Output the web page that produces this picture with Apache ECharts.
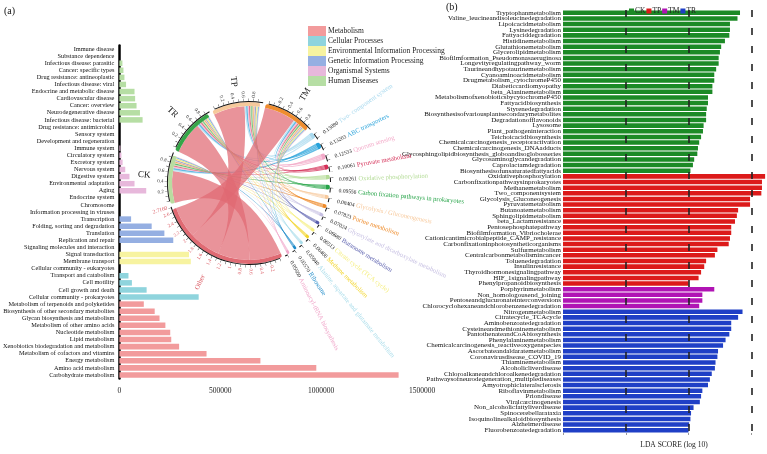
<!DOCTYPE html>
<html>
<head>
<meta charset="utf-8">
<script src="https://cdn.jsdelivr.net/npm/echarts@6/dist/echarts.min.js"></script>
<style>
  html, body { margin: 0; padding: 0; background: #fff; }
  #main { width: 767px; height: 454px; }
</style>
</head>
<body>
<div id="main"></div>
<script>
var FONT = '"Liberation Serif", "DejaVu Serif", serif';

// ---- (a) KEGG level 2 abundance, grouped by level 1 ----
var humanCats = ['Immune disease', 'Substance dependence', 'Infectious disease: parasitic', 'Cancer: specific types',
  'Drug resistance: antineoplastic', 'Infectious disease: viral', 'Endocrine and metabolic disease', 'Cardiovascular disease',
  'Cancer: overview', 'Neurodegenerative disease', 'Infectious disease: bacterial', 'Drug resistance: antimicrobial'];
var humanVals = [0, 0, 15000, 20000, 25000, 33000, 75000, 78000, 85000, 102000, 115000, 0];

var organCats = ['Sensory system', 'Development and regeneration', 'Immune system', 'Circulatory system', 'Excretory system',
  'Nervous system', 'Digestive system', 'Environmental adaptation', 'Aging', 'Endocrine system'];
var organVals = [0, 0, 5000, 10000, 16000, 29000, 50000, 75000, 133000, 0];

var geneCats = ['Chromosome', 'Information processing in viruses', 'Transcription', 'Folding, sorting and degradation',
  'Translation', 'Replication and repair'];
var geneVals = [0, 0, 58000, 160000, 223000, 267000];

var envCats = ['Signaling molecules and interaction', 'Signal transduction', 'Membrane transport'];
var envVals = [0, 345000, 354000];

var cellCats = ['Cellular community - eukaryotes', 'Transport and catabolism', 'Cell motility', 'Cell growth and death',
  'Cellular community - prokaryotes'];
var cellVals = [0, 45000, 62000, 135000, 393000];

var metaCats = ['Metabolism of terpenoids and polyketides', 'Biosynthesis of other secondary metabolites',
  'Glycan biosynthesis and metabolism', 'Metabolism of other amino acids', 'Nucleotide metabolism', 'Lipid metabolism',
  'Xenobiotics biodegradation and metabolism', 'Metabolism of cofactors and vitamins', 'Energy metabolism',
  'Amino acid metabolism', 'Carbohydrate metabolism'];
var metaVals = [121000, 175000, 199000, 228000, 252000, 257000, 296000, 432000, 699000, 976000, 1384000];

var leftTicks = [0, 500000, 1000000, 1500000];

var leftGroups = [
  { name: 'Human Diseases', cats: humanCats, vals: humanVals, color: '#b6dea4' },
  { name: 'Organismal Systems', cats: organCats, vals: organVals, color: '#e7b8db' },
  { name: 'Genetic Information Processing', cats: geneCats, vals: geneVals, color: '#95afe2' },
  { name: 'Environmental Information Processing', cats: envCats, vals: envVals, color: '#f7f3a0' },
  { name: 'Cellular Processes', cats: cellCats, vals: cellVals, color: '#8fd4dd' },
  { name: 'Metabolism', cats: metaCats, vals: metaVals, color: '#f29b9c' }
];

// ---- (b) LDA scores ----
var ckPaths = ['Tryptophanmetabolism', 'Valine_leucineandisoleucinedegradation', 'Lipoicacidmetabolism', 'Lysinedegradation',
  'Fattyaciddegradation', 'Histidinemetabolism', 'Glutathionemetabolism', 'Glycerolipidmetabolism',
  'Biofilmformation_Pseudomonasaeruginosa', 'Longevityregulatingpathway_worm', 'Taurineandhypotaurinemetabolism',
  'Cyanoaminoacidmetabolism', 'Drugmetabolism_cytochromeP450', 'Diabeticcardiomyopathy', 'beta_Alaninemetabolism',
  'MetabolismofxenobioticsbycytochromeP450', 'Fattyacidbiosynthesis', 'Styrenedegradation',
  'Biosynthesisofvariousplantsecondarymetabolites', 'Degradationofflavonoids', 'Lysosome', 'Plant_pathogeninteraction',
  'Teichoicacidbiosynthesis', 'Chemicalcarcinogenesis_receptoractivation', 'Chemicalcarcinogenesis_DNAadducts',
  'Glycosphingolipidbiosynthesis_globoandisoglobosseries', 'Glycosaminoglycandegradation', 'Caprolactamdegradation',
  'Biosynthesisofunsaturatedfattyacids'];
var ckScores = [2.82, 2.78, 2.66, 2.66, 2.65, 2.58, 2.52, 2.50, 2.48, 2.48, 2.44, 2.41, 2.41, 2.38, 2.38,
  2.31, 2.31, 2.29, 2.28, 2.28, 2.24, 2.23, 2.20, 2.17, 2.15, 2.14, 2.09, 2.07, 2.03];

var tpPaths = ['Oxidativephosphorylation', 'Carbonfixationpathwaysinprokaryotes', 'Methanemetabolism', 'Two_componentsystem',
  'Glycolysis_Gluconeogenesis', 'Pyruvatemetabolism', 'Butanoatemetabolism', 'Sphingolipidmetabolism',
  'beta_Lactamresistance', 'Pentosephosphatepathway', 'Biofilmformation_Vibriocholerae',
  'Cationicantimicrobialpeptide_CAMP_resistance', 'Carbonfixationinphotosyntheticorganisms', 'Sulfurmetabolism',
  'Centralcarbonmetabolismincancer', 'Toluenedegradation', 'Insulinresistance', 'Thyroidhormonesignalingpathway',
  'HIF_1signalingpathway', 'Phenylpropanoidbiosynthesis'];
var tpScores = [3.22, 3.17, 3.17, 3.16, 2.98, 2.98, 2.79, 2.77, 2.74, 2.68, 2.68, 2.66, 2.64, 2.46, 2.42,
  2.28, 2.25, 2.20, 2.16, 2.00];

var tmPaths = ['Porphyrinmetabolism', 'Non_homologousend_joining', 'Pentoseandglucuronateinterconversions',
  'Chlorocyclohexaneandchlorobenzenedegradation'];
var tmScores = [2.41, 2.22, 2.22, 2.17];

var trPaths = ['Nitrogenmetabolism', 'Citratecycle_TCAcycle', 'Aminobenzoatedegradation', 'Cysteineandmethioninemetabolism',
  'PantothenateandCoAbiosynthesis', 'Phenylalaninemetabolism', 'Chemicalcarcinogenesis_reactiveoxygenspecies',
  'Ascorbateandaldaratemetabolism', 'Coronavirusdisease_COVID_19', 'Thiaminemetabolism', 'Alcoholicliverdisease',
  'Chloroalkaneandchloroalkenedegradation', 'Pathwaysofneurodegeneration_multiplediseases', 'Amyotrophiclateralsclerosis',
  'Riboflavinmetabolism', 'Priondisease', 'Viralcarcinogenesis', 'Non_alcoholicfattyliverdisease', 'Spinocerebellarataxia',
  'Isoquinolinealkaloidbiosynthesis', 'Alzheimerdisease', 'Fluorobenzoatedegradation'];
var trScores = [2.86, 2.79, 2.68, 2.68, 2.65, 2.59, 2.55, 2.47, 2.46, 2.43, 2.42, 2.37, 2.34, 2.31, 2.22,
  2.20, 2.18, 2.08, 2.04, 2.03, 2.01, 2.00];

var ldaGroups = [
  { name: 'CK', paths: ckPaths, vals: ckScores, color: '#1c8a26' },
  { name: 'TP', paths: tpPaths, vals: tpScores, color: '#dc1a1a' },
  { name: 'TM', paths: tmPaths, vals: tmScores, color: '#b014b4' },
  { name: 'TR', paths: trPaths, vals: trScores, color: '#1f3fc6' }
];

// ---- chord: sample -> pathway relative abundance ----
var samples = ['CK', 'TR', 'TP', 'TM'];
var sampleColors = ['#b9dca0', '#36a548', '#f6c99c', '#ef8d2f'];
var pathways = ['Two- component system', 'ABC transporters', 'Quorum sensing', 'Pyruvate metabolism',
  'Oxidative phosphorylation', 'Carbon fixation pathways in prokaryotes', 'Glycolysis / Gluconeogenesis',
  'Purine metabolism', 'Glyoxylate and dicarboxylate metabolism', 'Butanoate metabolism', 'Citrate cycle (TCA cycle)',
  'Methane metabolism', 'Alanine, aspartate and glutamate metabolism', 'Ribosome', 'Aminoacyl-tRNA biosynthesis'];
var pathwayTotals = [0.13080, 0.13203, 0.12533, 0.10061, 0.09261, 0.09556, 0.08404, 0.07823, 0.07024, 0.06680,
  0.06513, 0.06400, 0.05940, 0.05570, 0.05660];
var pathwayColors = ['#a9d9ee', '#27a2da', '#f3a9c8', '#d42e56', '#b5dc98', '#25a347', '#f7c99c', '#ee8b2a',
  '#c6bfe2', '#5a5fae', '#f5ee7e', '#f2d52c', '#a8dcea', '#1f8bc9', '#f0a7ca'];
var ckShare = [0.0310, 0.0335, 0.0318, 0.0245, 0.0225, 0.0232, 0.0205, 0.0196, 0.0176, 0.0166, 0.0160, 0.0156, 0.0148, 0.0140, 0.0142];
var trShare = [0.0320, 0.0322, 0.0310, 0.0248, 0.0228, 0.0236, 0.0208, 0.0195, 0.0174, 0.0165, 0.0166, 0.0158, 0.0150, 0.0141, 0.0143];
var tpShare = [0.0345, 0.0318, 0.0300, 0.0262, 0.0245, 0.0252, 0.0221, 0.0194, 0.0178, 0.0171, 0.0163, 0.0168, 0.0146, 0.0136, 0.0139];
var tmShare = [0.0333, 0.0345, 0.0325, 0.0251, 0.0228, 0.0236, 0.0206, 0.0197, 0.0174, 0.0166, 0.0162, 0.0158, 0.0150, 0.0140, 0.0142];
var otherShare = [0.6846, 0.6836, 0.6762, 0.6787];
var otherLabel = '2.7160';
var otherColor = '#e06a73';

// ---------------------------------------------------------------
var chart = echarts.init(document.getElementById('main'));

var leftCats = [].concat(humanCats, organCats, geneCats, envCats, cellCats, metaCats);
var leftSeries = leftGroups.map(function (g) {
  return {
    name: g.name, type: 'bar', stack: 'kegg', xAxisIndex: 0, yAxisIndex: 0,
    barCategoryGap: '22%', itemStyle: { color: g.color }, silent: true,
    data: leftCats.map(function (c) {
      var i = g.cats.indexOf(c);
      return i < 0 ? '-' : g.vals[i];
    })
  };
});

var rightCats = [].concat(ckPaths, tpPaths, tmPaths, trPaths);
var rightSeries = ldaGroups.map(function (g) {
  return {
    name: g.name, type: 'bar', stack: 'lda', xAxisIndex: 1, yAxisIndex: 1,
    barCategoryGap: '20%', itemStyle: { color: g.color }, silent: true,
    data: rightCats.map(function (c) {
      var i = g.paths.indexOf(c);
      return i < 0 ? '-' : g.vals[i];
    })
  };
});

// chord nodes and links
var shares = [ckShare, trShare, tpShare, tmShare];
var nodes = [];
var links = [];
samples.forEach(function (s, i) {
  nodes.push({ name: s, itemStyle: { color: sampleColors[i] } });
});
pathways.forEach(function (p, i) {
  nodes.push({ name: p, itemStyle: { color: pathwayColors[i] } });
});
nodes.push({ name: 'Other', itemStyle: { color: otherColor } });
samples.forEach(function (s, i) {
  links.push({ source: s, target: 'Other', value: otherShare[i] });
  pathways.forEach(function (p, j) {
    links.push({ source: s, target: p, value: shares[i][j] });
  });
});

// node sizes the chord uses; the pie rings laid over it must use the same scale
var nodeSize = {};
var total = 0;
links.forEach(function (l) {
  nodeSize[l.source] = (nodeSize[l.source] || 0) + l.value;
  nodeSize[l.target] = (nodeSize[l.target] || 0) + l.value;
  total += 2 * l.value;
});

var CENTER = [249, 183];
var START = 195;
var PAD = 4;
var gapValue = total * PAD / (360 - nodes.length * PAD);
var CLEAR = 'rgba(0,0,0,0)';

function gapItem(v) {
  return { value: v, itemStyle: { color: CLEAR }, label: { show: false } };
}

// label ring
var labelData = [gapItem(gapValue / 2)];
// ticks ring
var tickData = [gapItem(gapValue / 2)];
var TICK = 0.1;
var TICK_W = 0.007;

nodes.forEach(function (n, i) {
  var size = nodeSize[n.name];
  var last = i === nodes.length - 1;
  var item = { name: n.name, value: size, itemStyle: { color: CLEAR } };
  if (i < samples.length) {
    item.label = { formatter: n.name, fontSize: 9, color: '#111' };
    item.labelLine = { length: 15, length2: 0 };
  } else if (n.name === 'Other') {
    item.label = { formatter: 'Other', fontSize: 7, color: '#d9545d' };
    item.labelLine = { length: 20, length2: 0 };
  } else {
    var j = i - samples.length;
    item.label = { formatter: '{v|' + pathwayTotals[j].toFixed(5) + '} ' + n.name, fontSize: 6.5, color: pathwayColors[j] };
    item.labelLine = { length: 6, length2: 0 };
  }
  labelData.push(item);
  labelData.push(gapItem(last ? gapValue / 2 : gapValue));

  // ticks along this node
  var isSample = i < samples.length;
  var isOther = n.name === 'Other';
  var tickColor = isOther ? '#d9545d' : '#333';
  var pos = 0;
  for (var k = 0; k * TICK <= size + 1e-9; k++) {
    var t = k * TICK;
    if (t > pos) tickData.push(gapItem(t - pos));
    var w = Math.min(TICK_W, size - t);
    if (w <= 0) w = 0.0001;
    var lab = { show: false };
    if ((isSample || isOther) && k > 0 && k % 2 === 0 && size - t > 0.08) {
      lab = { show: true, formatter: String(+t.toFixed(1)), fontSize: 5, color: tickColor };
    }
    tickData.push({ value: w, itemStyle: { color: '#111' }, label: lab });
    pos = t + w;
  }
  if (size > pos) tickData.push(gapItem(size - pos));
  if (isOther) {
    tickData.push({ value: 0.0001, itemStyle: { color: '#111' },
      label: { show: true, formatter: otherLabel, fontSize: 5.5, color: tickColor } });
  }
  tickData.push(gapItem(last ? gapValue / 2 : gapValue));
});

var outlineData = labelData.map(function (d) {
  return { value: d.value, itemStyle: { color: d.name ? '#111' : CLEAR } };
});

var option = {
  animation: false,
  textStyle: { fontFamily: FONT },
  graphic: [
    { type: 'text', left: 4, top: 6, style: { text: '(a)', font: '10px ' + FONT, fill: '#111' } },
    { type: 'text', left: 446, top: 2, style: { text: '(b)', font: '10px ' + FONT, fill: '#111' } }
  ],
  legend: [
    {
      data: ['Metabolism', 'Cellular Processes', 'Environmental Information Processing', 'Genetic Information Processing',
        'Organismal Systems', 'Human Diseases'],
      orient: 'vertical', left: 303, top: 21, itemWidth: 18, itemHeight: 10, itemGap: 0,
      icon: 'rect', selectedMode: false,
      textStyle: { fontFamily: FONT, fontSize: 7.5, color: '#222', padding: [0, 0, 0, -3] }
    },
    {
      data: ['CK', 'TP', 'TM', 'TR'],
      left: 624, top: 2, itemWidth: 5, itemHeight: 5, itemGap: 1,
      icon: 'rect', selectedMode: false,
      textStyle: { fontFamily: FONT, fontSize: 7.5, color: '#222', padding: [0, 0, 0, -4] }
    }
  ],
  grid: [
    { left: 114, top: 45.5, width: 308, height: 333 },
    { left: 563, top: 10, right: 0, height: 429 }
  ],
  xAxis: [
    {
      type: 'value', gridIndex: 0, min: 0, max: 1500000, interval: 250000,
      axisLine: { lineStyle: { color: '#000', width: 2.5 } },
      axisTick: { length: 4, lineStyle: { color: '#000', width: 2 } },
      splitLine: { show: false },
      axisLabel: {
        fontFamily: FONT, fontSize: 7.5, color: '#222', margin: 9,
        formatter: function (v) { return leftTicks.indexOf(v) >= 0 ? String(v) : ''; }
      }
    },
    {
      type: 'value', gridIndex: 1, min: 0, max: 3.25, interval: 1, z: 10,
      name: 'LDA SCORE (log 10)', nameLocation: 'middle', nameGap: 8,
      nameTextStyle: { fontFamily: FONT, fontSize: 7.5, color: '#222', padding: [0, 0, 0, 18] },
      axisLine: { show: false },
      axisTick: { show: true, length: 2, lineStyle: { color: '#999' } },
      axisLabel: { show: false },
      splitLine: { show: true, showMinLine: false, showMaxLine: false, lineStyle: { color: '#222', width: 1.6, type: [7, 11] } }
    }
  ],
  yAxis: [
    {
      type: 'category', gridIndex: 0, inverse: true, data: leftCats,
      axisLine: { lineStyle: { color: '#000', width: 2.5 } },
      axisTick: { alignWithLabel: true, length: 4, lineStyle: { color: '#000', width: 2 } },
      axisLabel: { interval: 0, fontFamily: FONT, fontSize: 6.3, color: '#111', margin: 5 }
    },
    {
      type: 'category', gridIndex: 1, inverse: true, data: rightCats,
      axisLine: { show: false }, axisTick: { show: false },
      axisLabel: { interval: 0, fontFamily: FONT, fontSize: 7, color: '#111', margin: 2 }
    }
  ],
  series: leftSeries.concat(rightSeries).concat([
    {
      type: 'chord',
      center: CENTER, radius: [77, 81],
      startAngle: START, clockwise: true, padAngle: PAD,
      silent: true,
      label: { show: false },
      lineStyle: { color: 'target', opacity: 0.72 },
      data: nodes,
      links: links
    },
    {
      type: 'pie', silent: true,
      center: CENTER, radius: [81, 82],
      startAngle: START, clockwise: true, minAngle: 0,
      label: { show: false }, labelLine: { show: false },
      data: outlineData
    },
    {
      type: 'pie', silent: true,
      center: CENTER, radius: [82, 84.5],
      startAngle: START, clockwise: true, minAngle: 0,
      avoidLabelOverlap: false,
      label: { position: 'outside', rotate: 'radial', fontFamily: FONT, distanceToLabelLine: 0 },
      labelLine: { show: false, length: 1, length2: 0 },
      data: tickData
    },
    {
      type: 'pie', silent: true,
      center: CENTER, radius: [77, 82],
      startAngle: START, clockwise: true, minAngle: 0,
      avoidLabelOverlap: false,
      label: {
        show: true, position: 'outside', rotate: 'radial', fontFamily: FONT,
        distanceToLabelLine: 2,
        rich: { v: { fontSize: 5.5, color: '#222', fontFamily: FONT } }
      },
      labelLine: { show: false },
      data: labelData
    }
  ])
};

chart.setOption(option);
</script>
</body>
</html>
